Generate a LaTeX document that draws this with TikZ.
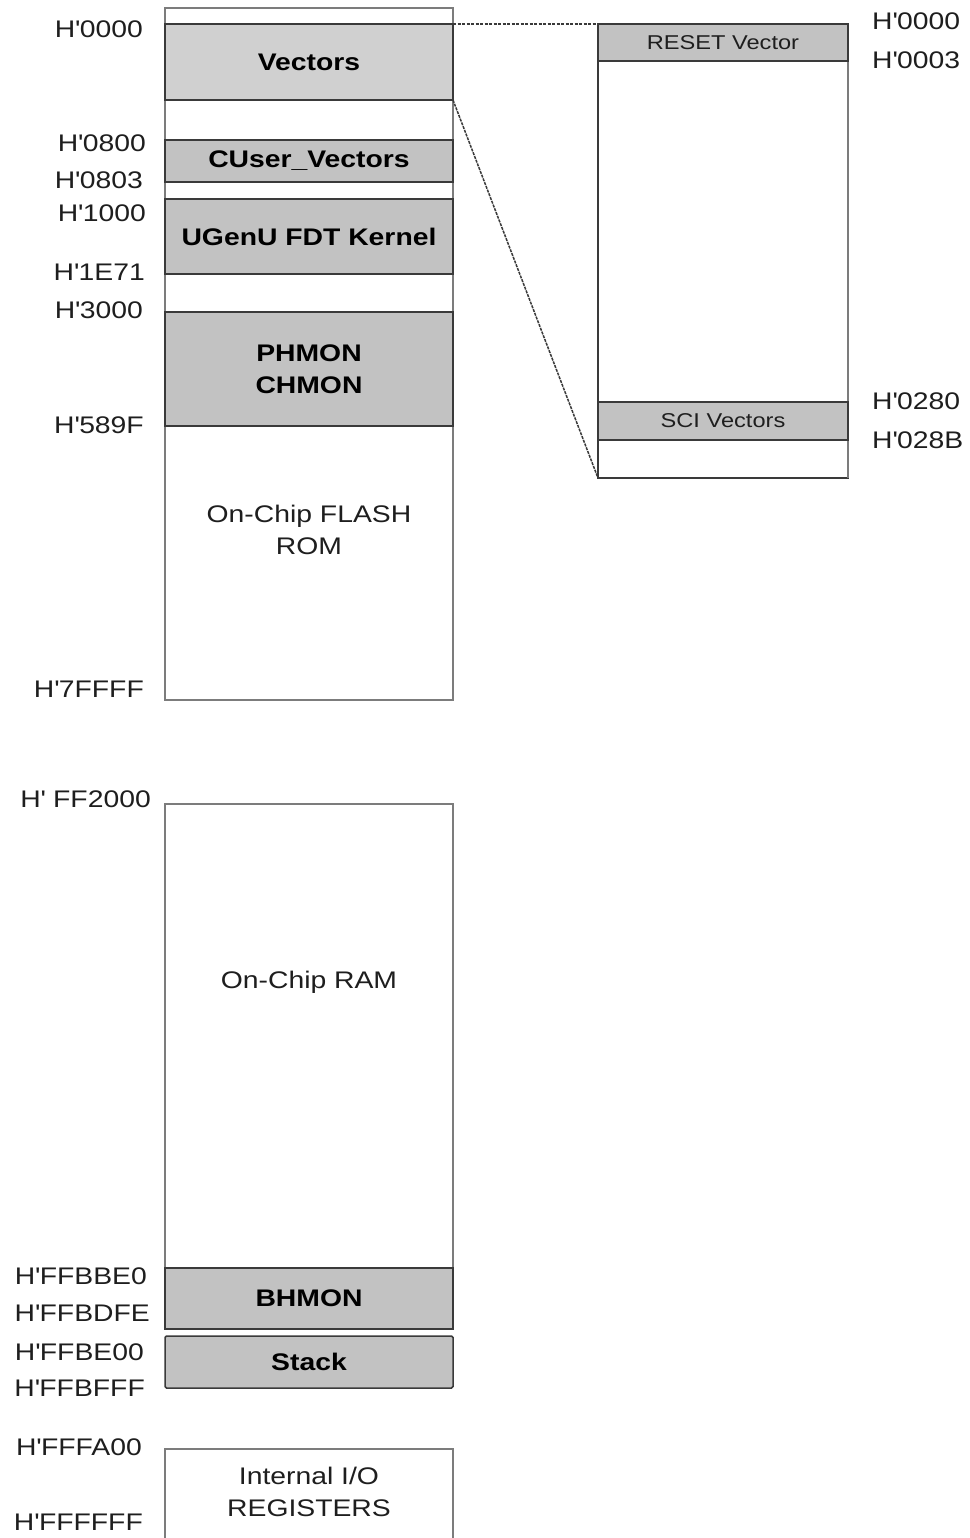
\documentclass[tikz,border=0pt]{standalone}
\usepackage{fontspec}
\setmainfont{Liberation Sans}[FakeStretch=1.18]
\definecolor{framegray}{HTML}{7C7C7C}
\definecolor{segline}{HTML}{3A3A3A}
\definecolor{vecfill}{HTML}{D0D0D0}
\definecolor{segfill}{HTML}{C2C2C2}
\definecolor{labcol}{HTML}{1E1E1E}
\newcommand{\addr}[1]{H\textquotesingle #1}
\begin{document}
\begin{tikzpicture}[x=1pt,y=-1pt,
  frame/.style={draw=framegray, line width=1.5pt, inner sep=0pt, outer sep=0pt, anchor=north west},
  seg/.style={draw=segline, line width=1.5pt, fill=segfill, inner sep=0pt, outer sep=0pt,
    anchor=north west, minimum width=288pt, align=center,
    font=\fontsize{24}{32}\selectfont\bfseries, text=black},
  smallseg/.style={draw=segline, line width=1.3pt, fill=segfill, inner sep=0pt, outer sep=0pt,
    anchor=north west, minimum width=250pt, align=center,
    font=\fontsize{20}{24}\selectfont, text=labcol},
  body/.style={align=center, inner sep=0pt, font=\fontsize{24}{31.5}\selectfont, text=labcol},
  lab/.style={inner sep=0pt, font=\fontsize{24}{28}\selectfont, text=labcol, anchor=east},
  rlab/.style={inner sep=0pt, font=\fontsize{24}{28}\selectfont, text=labcol, anchor=west},
  zoomline/.style={draw=segline, line width=1.5pt, dash pattern=on 3pt off 1.5pt}
]
\useasboundingbox (0,0) rectangle (969,1538);
\fill[white] (0,0) rectangle (969,1538);

% ---------- ROM column ----------
\node[frame, minimum width=288pt, minimum height=692pt] (rom) at (165,8) {};
\node[seg, fill=vecfill, minimum height=76pt] (vec) at (165,24) {Vectors};
\node[seg, minimum height=42pt] (cuser) at (165,140) {CUser\_Vectors};
\node[seg, minimum height=75pt] (ugenu) at (165,199) {UGenU FDT Kernel};
\node[seg, minimum height=114pt] (phmon) at (165,312) {PHMON\\CHMON};
\node[body] (flash) at (309,530) {On-Chip FLASH\\ROM};

% ---------- RAM column ----------
\node[frame, minimum width=288pt, minimum height=525pt] (ram) at (165,804) {};
\node[body] (ramtxt) at (309,982) {On-Chip RAM};
\node[seg, minimum height=61pt] (bhmon) at (165,1268) {BHMON};
\node[seg, minimum height=52pt, rounded corners=1.5pt] (stack) at (165,1336) {Stack};
\node[frame, minimum width=288pt, minimum height=120pt] (io) at (165,1449) {};
\node[body] (iotxt) at (309,1492) {Internal I/O\\REGISTERS};

% ---------- zoomed vector table ----------
\node[frame, draw=segline, line width=1.3pt, minimum width=250pt, minimum height=454pt] (vtab) at (598,24) {};
\draw[framegray, line width=1.3pt] (vtab.north east) -- (vtab.south east);
\node[smallseg, minimum height=37pt] (reset) at (598,24) {RESET Vector};
\node[smallseg, minimum height=38pt] (sci) at (598,402) {SCI Vectors};

\draw[zoomline] (vec.north east) -- (reset.north west);
\draw[zoomline, dash pattern=on 3pt off 1pt] (vec.south east) -- (vtab.south west);

% ---------- address labels, left ----------
\node[lab] (a0000) at (143,29) {\addr{0000}};
\node[lab] (a0800) at (146,143) {\addr{0800}};
\node[lab] (a0803) at (143,180) {\addr{0803}};
\node[lab] (a1000) at (146,213) {\addr{1000}};
\node[lab] (a1e71) at (145,272) {\addr{1E71}};
\node[lab] (a3000) at (143,310) {\addr{3000}};
\node[lab] (a589f) at (144,425) {\addr{589F}};
\node[lab] (a7ffff) at (144,689) {\addr{7FFFF}};
\node[lab] (aff2000) at (151,799) {H\textquotesingle\ FF2000};
\node[lab] (abbe0) at (147,1276) {\addr{FFBBE0}};
\node[lab] (abdfe) at (150,1313) {\addr{FFBDFE}};
\node[lab] (abe00) at (144,1352) {\addr{FFBE00}};
\node[lab] (abfff) at (145,1388) {\addr{FFBFFF}};
\node[lab] (afa00) at (142,1447) {\addr{FFFA00}};
\node[lab] (affff) at (143,1522) {\addr{FFFFFF}};

% ---------- address labels, right ----------
\node[rlab] (r0000) at (872,21) {\addr{0000}};
\node[rlab] (r0003) at (872,60) {\addr{0003}};
\node[rlab] (r0280) at (872,401) {\addr{0280}};
\node[rlab] (r028b) at (872,440) {\addr{028B}};
\end{tikzpicture}
\end{document}
